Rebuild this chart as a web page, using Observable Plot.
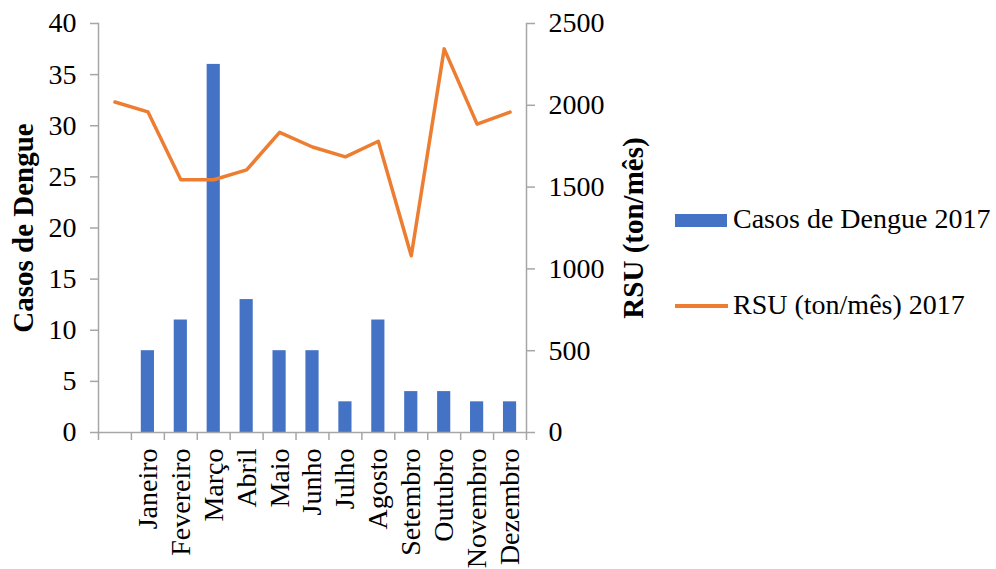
<!DOCTYPE html>
<html><head><meta charset="utf-8">
<script src="https://cdn.jsdelivr.net/npm/d3@7"></script>
<script src="https://cdn.jsdelivr.net/npm/@observablehq/plot@0.6"></script>
<style>
body{margin:0;background:#fff;}
#wrap{position:relative;width:996px;height:569px;font-family:"Liberation Serif","Times New Roman",serif;}
.txt{position:absolute;left:733px;font-size:28px;line-height:28px;color:#000;white-space:nowrap;}
.sw{position:absolute;left:675px;}
</style></head><body><div id="wrap"></div>
<script>
const categories = ["", "Janeiro", "Fevereiro", "Março", "Abril", "Maio", "Junho", "Julho", "Agosto", "Setembro", "Outubro", "Novembro", "Dezembro"];
const dengue2017 = [8, 11, 36, 13, 8, 8, 3, 11, 4, 4, 3, 3]; // Janeiro..Dezembro
const rsu2017 = [2020, 1960, 1545, 1545, 1605, 1835, 1745, 1685, 1780, 1080, 2345, 1885, 1958]; // one per category
const leftTicks = [0, 5, 10, 15, 20, 25, 30, 35, 40];
const rightTicks = [0, 500, 1000, 1500, 2000, 2500];
const seriesNames = ["Casos de Dengue 2017", "RSU (ton/mês) 2017"];
const axisTitles = ["Casos de Dengue", "RSU (ton/mês)"];

const LEFT_MAX = 40, RIGHT_MAX = 2500;
const toLeft = v => v * LEFT_MAX / RIGHT_MAX;
const keys = d3.range(categories.length);
const barData = dengue2017.map((v, i) => ({k: i + 1, v}));
const lineData = rsu2017.map((v, i) => ({k: i, v}));

const mL = 98, mR = 470, W = 996;
const step = (W - mL - mR) / categories.length;
const grey = "#a6a6a6";

const chart = Plot.plot({
  width: W, height: 569,
  marginLeft: mL, marginRight: mR, marginTop: 23, marginBottom: 137,
  style: {fontFamily: "'Liberation Serif','Times New Roman',serif", background: "white", color: "black"},
  x: {type: "band", domain: keys, paddingInner: 0.6, paddingOuter: 0.3, round: false},
  y: {domain: [0, LEFT_MAX]},
  marks: [
    Plot.barY(barData, {x: "k", y: "v", fill: "#4472C4"}),
    Plot.line(lineData, {x: "k", y: d => toLeft(d.v), stroke: "#ED7D31", strokeWidth: 3.5, strokeLinejoin: "round"}),
    Plot.frame({anchor: "left", stroke: grey, strokeWidth: 1.5}),
    Plot.frame({anchor: "right", stroke: grey, strokeWidth: 1.5}),
    Plot.ruleY([0], {stroke: grey, strokeWidth: 1.5}),
    Plot.axisY(leftTicks, {anchor: "left", tickSize: 8, tickPadding: 14, fontSize: 28, stroke: grey, strokeWidth: 1.5, fill: "black", label: null}),
    Plot.axisY(rightTicks.map(toLeft), {anchor: "right", tickSize: 8, tickPadding: 14, fontSize: 28, stroke: grey, strokeWidth: 1.5, fill: "black", label: null, tickFormat: d => String(Math.round(d * RIGHT_MAX / LEFT_MAX))}),
    Plot.axisX({tickSize: 8, dx: -step / 2, stroke: grey, strokeWidth: 1.5, tickFormat: () => "", label: null}),
    Plot.axisX([keys[keys.length - 1]], {tickSize: 8, dx: step / 2, stroke: grey, strokeWidth: 1.5, tickFormat: () => "", label: null}),
    Plot.axisX({tickSize: 0, tickPadding: 16, tickRotate: -90, fontSize: 28, fill: "black", label: null, tickFormat: i => categories[i]}),
    Plot.text([axisTitles[0]], {text: d => d, frameAnchor: "left", textAnchor: "middle", dx: -75, rotate: -90, fontSize: 29, fontWeight: "bold", fill: "black"}),
    Plot.text([axisTitles[1]], {text: d => d, frameAnchor: "right", textAnchor: "middle", dx: 107, rotate: -90, fontSize: 29, fontWeight: "bold", fill: "black"})
  ]
});
const wrap = document.getElementById("wrap");
wrap.appendChild(chart);

const sw1 = document.createElement("div");
sw1.className = "sw"; sw1.style.cssText = "top:214px;width:52px;height:13px;background:#4472C4;";
const sw2 = document.createElement("div");
sw2.className = "sw"; sw2.style.cssText = "top:304px;width:53px;height:3.5px;background:#ED7D31;";
const t1 = document.createElement("div"); t1.className = "txt"; t1.style.top = "205px"; t1.textContent = seriesNames[0];
const t2 = document.createElement("div"); t2.className = "txt"; t2.style.top = "291px"; t2.textContent = seriesNames[1];
[sw1, sw2, t1, t2].forEach(e => wrap.appendChild(e));
const svg = wrap.querySelector("svg");
svg.style.position = "absolute"; svg.style.left = "0"; svg.style.top = "0";
</script></body></html>
